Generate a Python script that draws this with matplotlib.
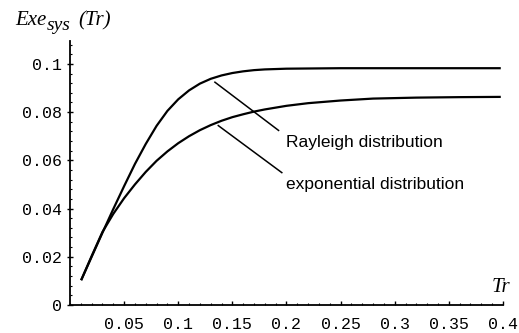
import matplotlib.pyplot as plt
from matplotlib.ticker import MultipleLocator

# values
tr_ray = [0.0107, 0.02, 0.03, 0.04, 0.05, 0.06, 0.07, 0.08, 0.09, 0.10, 0.11,
          0.12, 0.13, 0.14, 0.15, 0.16, 0.17, 0.18, 0.20, 0.25, 0.30, 0.35, 0.397]
exe_ray = [0.0107, 0.0200, 0.0300, 0.0398, 0.0493, 0.0585, 0.0668, 0.0743,
           0.0805, 0.0853, 0.0890, 0.0918, 0.0938, 0.0952, 0.0962, 0.0969,
           0.0974, 0.0977, 0.0980, 0.0982, 0.0982, 0.0982, 0.0982]

tr_exp = [0.0107, 0.02, 0.03, 0.04, 0.05, 0.06, 0.07, 0.08, 0.09, 0.10, 0.11,
          0.12, 0.13, 0.14, 0.15, 0.16, 0.17, 0.18, 0.20, 0.22, 0.25, 0.28,
          0.32, 0.36, 0.397]
exe_exp = [0.0107, 0.0203, 0.0303, 0.0378, 0.0443, 0.0500, 0.0552, 0.0598,
           0.0637, 0.0671, 0.0700, 0.0725, 0.0746, 0.0764, 0.0779, 0.0791,
           0.0802, 0.0811, 0.0826, 0.0837, 0.0848, 0.0856, 0.0860, 0.0862,
           0.0863]

xticks = [0.05, 0.1, 0.15, 0.2, 0.25, 0.3, 0.35, 0.4]
xticklabels = ['0.05', '0.1', '0.15', '0.2', '0.25', '0.3', '0.35', '0.4']
yticks = [0, 0.02, 0.04, 0.06, 0.08, 0.1]
yticklabels = ['0', '0.02', '0.04', '0.06', '0.08', '0.1']

fig = plt.figure(figsize=(5.19, 3.33), dpi=100)
ax = fig.add_axes([0.1349, 0.0841, 0.969 - 0.1349, 0.877 - 0.0841])

ax.plot(tr_ray, exe_ray, color='black', lw=1.6, solid_joinstyle='round')
ax.plot(tr_exp, exe_exp, color='black', lw=1.6, solid_joinstyle='round')

# leader lines
ax.plot([0.1339, 0.1927], [0.0924, 0.0724], color='black', lw=1.1)
ax.plot([0.137, 0.1957], [0.0744, 0.0549], color='black', lw=1.1)
ax.text(0.2, 0.0672, 'Rayleigh distribution', fontsize=12.5,
        family='Liberation Sans', va='center', ha='left')
ax.text(0.2, 0.0498, 'exponential distribution', fontsize=12.5,
        family='Liberation Sans', va='center', ha='left')

ax.set_xlim(0, 0.397)
ax.set_ylim(0, 0.1095)
for s in ['top', 'right']:
    ax.spines[s].set_visible(False)
for s in ['left', 'bottom']:
    ax.spines[s].set_linewidth(1.3)

ax.set_xticks(xticks)
ax.set_xticklabels(xticklabels, family='Liberation Mono', fontsize=12)
ax.set_yticks(yticks)
ax.set_yticklabels(yticklabels, family='Liberation Mono', fontsize=12)
ax.xaxis.set_minor_locator(MultipleLocator(0.01))
ax.yaxis.set_minor_locator(MultipleLocator(0.004))
ax.tick_params(axis='x', which='major', direction='in', length=3, width=1, pad=9)
ax.tick_params(axis='y', which='major', direction='inout', length=4, width=1, pad=4)
ax.tick_params(which='minor', direction='in', length=1.5, width=0.8)

W, H = 519, 333
serif = dict(family='Liberation Serif', style='italic', va='baseline', ha='left')
fig.text(15 / W, 1 - 25 / H, 'Exe', fontsize=15, **serif)
fig.text(47 / W, 1 - 30 / H, 'sys', fontsize=14, **serif)
fig.text(78 / W, 1 - 25 / H, '(Tr)', fontsize=15, **serif)
fig.text(492 / W, 1 - 292 / H, 'Tr', fontsize=15, **serif)

fig.savefig('out.png', dpi=100)
